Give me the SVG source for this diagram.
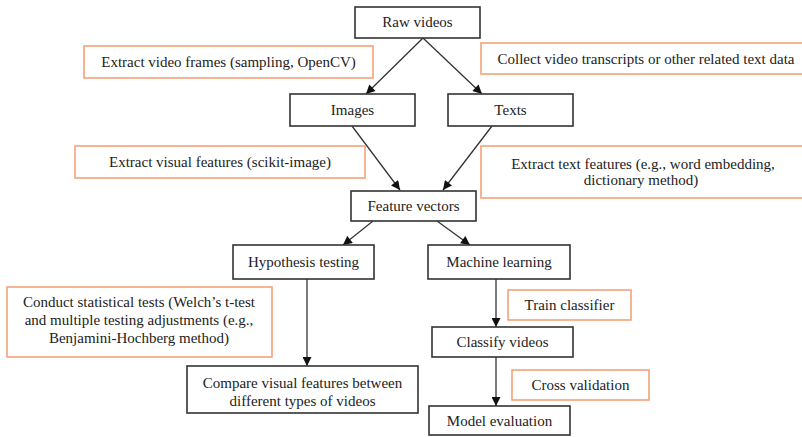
<svg xmlns="http://www.w3.org/2000/svg" width="802" height="437" viewBox="0 0 802 437">
<style>
.box{fill:#fff;stroke:#333;stroke-width:1.6}
.note{fill:#fff;stroke:#f5a27a;stroke-width:1.6}
.t{font-family:"Times New Roman","Liberation Serif",Tinos,Times,"Noto Serif","DejaVu Serif",FreeSerif,serif;font-size:15px;fill:#222;text-anchor:middle}
.conn line{stroke:#333;stroke-width:1.3;marker-end:url(#ah)}
</style>
<defs>
<marker id="ah" viewBox="0 0 10 10" refX="10" refY="5" markerWidth="11" markerHeight="9" markerUnits="userSpaceOnUse" orient="auto">
<path d="M0,0 L10,5 L0,10 Z" fill="#111"/>
</marker>
</defs>
<rect width="802" height="437" fill="#fff"/>
<g class="conn">
<line x1="423" y1="38" x2="366" y2="94"/>
<line x1="423" y1="38" x2="482" y2="94"/>
<line x1="352" y1="126" x2="400" y2="190"/>
<line x1="492" y1="126" x2="443" y2="190"/>
<line x1="373" y1="221" x2="343" y2="245"/>
<line x1="437" y1="221" x2="470" y2="245"/>
<line x1="307" y1="279" x2="307" y2="366"/>
<line x1="496" y1="279" x2="496" y2="327"/>
<line x1="496" y1="357" x2="496" y2="406"/>
</g>
<g class="t">
<g id="raw"><rect class="box" x="355" y="7" width="125" height="31"/><text x="417.5" y="27">Raw videos</text></g>
<g id="extract-frames"><rect class="note" x="84" y="46" width="289" height="32"/><text x="228.5" y="67">Extract video frames (sampling, OpenCV)</text></g>
<g id="collect"><rect class="note" x="481" y="43" width="330" height="31"/><text x="646" y="64">Collect video transcripts or other related text data</text></g>
<g id="images"><rect class="box" x="290" y="94" width="125" height="32"/><text x="352.5" y="115">Images</text></g>
<g id="texts"><rect class="box" x="448" y="94" width="125" height="32"/><text x="510.5" y="115">Texts</text></g>
<g id="extract-visual"><rect class="note" x="75" y="146" width="290" height="32"/><text x="220" y="167">Extract visual features (scikit-image)</text></g>
<g id="extract-text"><rect class="note" x="481" y="146" width="330" height="52"/><text x="643" y="169">Extract text features (e.g., word embedding,</text><text x="641" y="185">dictionary method)</text></g>
<g id="feature"><rect class="box" x="351" y="191" width="125" height="30"/><text x="413.5" y="211">Feature vectors</text></g>
<g id="hypothesis"><rect class="box" x="233" y="245" width="141" height="34"/><text x="303.5" y="267">Hypothesis testing</text></g>
<g id="ml"><rect class="box" x="428" y="245" width="142" height="34"/><text x="499" y="267">Machine learning</text></g>
<g id="conduct"><rect class="note" x="7" y="287" width="265" height="70"/><text x="139" y="307">Conduct statistical tests (Welch’s t-test</text><text x="139" y="325">and multiple testing adjustments (e.g.,</text><text x="139" y="343">Benjamini-Hochberg method)</text></g>
<g id="compare"><rect class="box" x="187" y="366" width="231" height="47"/><text x="302.5" y="388">Compare visual features between</text><text x="302.5" y="406">different types of videos</text></g>
<g id="train"><rect class="note" x="508" y="290" width="123" height="30"/><text x="569.5" y="310">Train classifier</text></g>
<g id="classify"><rect class="box" x="432" y="327" width="141" height="30"/><text x="502.5" y="347">Classify videos</text></g>
<g id="cross"><rect class="note" x="512" y="370" width="137" height="30"/><text x="580.5" y="390">Cross validation</text></g>
<g id="eval"><rect class="box" x="429" y="406" width="141" height="29"/><text x="499.5" y="426">Model evaluation</text></g>
</g>
</svg>
